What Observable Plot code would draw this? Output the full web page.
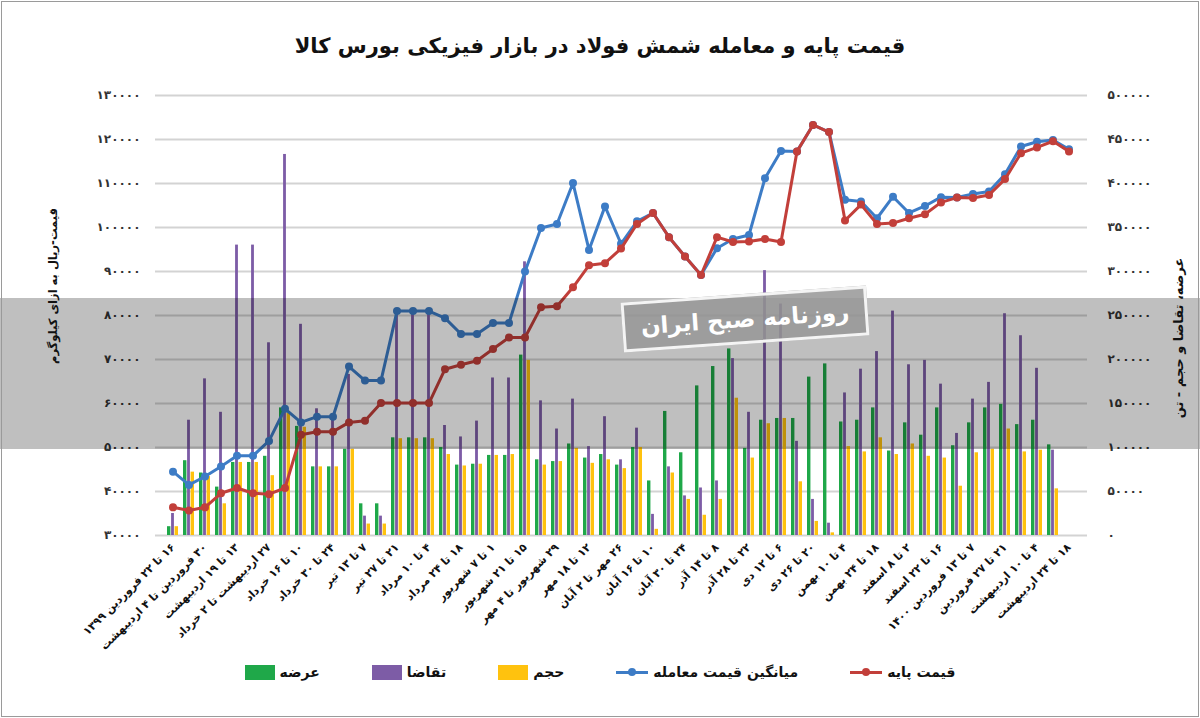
<!DOCTYPE html>
<html><head><meta charset="utf-8">
<script src="https://cdn.jsdelivr.net/npm/d3@7"></script>
<script src="https://cdn.jsdelivr.net/npm/@observablehq/plot@0.6"></script>
<style>
body{margin:0;background:#fff;}
#wrap{position:relative;width:1200px;height:718px;overflow:hidden;font-family:"DejaVu Sans",sans-serif;background:#fff;}
#title{position:absolute;left:0;width:1200px;top:34px;text-align:center;font-size:21px;font-weight:bold;color:#111;direction:rtl;}
#chart{position:absolute;left:0;top:0;}
.ytitle{position:absolute;font-weight:bold;color:#111;white-space:nowrap;direction:rtl;transform:translate(-50%,-50%) rotate(-90deg);}
#ytl{left:53px;top:286px;font-size:11.5px;}
#ytr{left:1178px;top:338px;font-size:13px;}
#legend{position:absolute;top:664px;left:0;width:1200px;display:flex;justify-content:center;direction:rtl;gap:52px;font-size:14px;font-weight:bold;color:#111;}
.item{display:flex;align-items:center;gap:5px;}
.box{width:30px;height:15px;display:inline-block;}
.ln{width:32px;height:14px;display:inline-block;position:relative;}
.ln::before{content:"";position:absolute;left:0;right:0;top:6px;height:3px;background:var(--c);}
.ln::after{content:"";position:absolute;left:12px;top:3px;width:8px;height:8px;border-radius:50%;background:var(--c);}
#band{position:absolute;left:0;top:298px;width:1200px;height:151px;background:rgba(0,0,0,0.25);pointer-events:none;}
#stamp{position:absolute;left:622px;top:294px;width:240px;height:44px;background:rgba(150,150,150,0.85);border:3px solid #f4f4f4;color:#fff;font-size:23px;font-weight:bold;text-align:center;line-height:44px;direction:rtl;white-space:nowrap;transform:rotate(-4deg);}
#frame{position:absolute;left:1px;top:1px;right:1px;bottom:1px;border:1px solid #9a9a9a;pointer-events:none;}
</style></head><body>
<div id="wrap">
<div id="chart"></div>
<div id="band"></div>
<div id="stamp">روزنامه صبح ایران</div>
<div id="title">قیمت پایه و معامله شمش فولاد در بازار فیزیکی بورس کالا</div>
<div class="ytitle" id="ytl">قیمت-ریال به ازای کیلوگرم</div>
<div class="ytitle" id="ytr">عرضه، تقاضا و حجم - تن</div>
<div id="legend"></div>
<div id="frame"></div>
</div>
<script>
const weeks = [
"۱۶ تا ۲۲ فروردین ۱۳۹۹","۲۳ تا ۲۹ فروردین","۳۰ فروردین تا ۴ اردیبهشت","۶ تا ۱۲ اردیبهشت","۱۳ تا ۱۹ اردیبهشت","۲۰ تا ۲۶ اردیبهشت",
"۲۷ اردیبهشت تا ۲ خرداد","۳ تا ۹ خرداد","۱۰ تا ۱۶ خرداد","۱۷ تا ۲۳ خرداد","۲۴ تا ۳۰ خرداد","۳۱ خرداد تا ۶ تیر",
"۷ تا ۱۳ تیر","۱۴ تا ۲۰ تیر","۲۱ تا ۲۷ تیر","۲۸ تیر تا ۳ مرداد","۴ تا ۱۰ مرداد","۱۱ تا ۱۷ مرداد",
"۱۸ تا ۲۴ مرداد","۲۵ تا ۳۱ مرداد","۱ تا ۷ شهریور","۸ تا ۱۴ شهریور","۱۵ تا ۲۱ شهریور","۲۲ تا ۲۸ شهریور",
"۲۹ شهریور تا ۴ مهر","۵ تا ۱۱ مهر","۱۲ تا ۱۸ مهر","۱۹ تا ۲۵ مهر","۲۶ مهر تا ۲ آبان","۳ تا ۹ آبان",
"۱۰ تا ۱۶ آبان","۱۷ تا ۲۳ آبان","۲۴ تا ۳۰ آبان","۱ تا ۷ آذر","۸ تا ۱۴ آذر","۱۵ تا ۲۱ آذر",
"۲۲ تا ۲۸ آذر","۲۹ آذر تا ۵ دی","۶ تا ۱۲ دی","۱۳ تا ۱۹ دی","۲۰ تا ۲۶ دی","۲۷ دی تا ۳ بهمن",
"۴ تا ۱۰ بهمن","۱۱ تا ۱۷ بهمن","۱۸ تا ۲۴ بهمن","۲۵ بهمن تا ۱ اسفند","۲ تا ۸ اسفند","۹ تا ۱۵ اسفند",
"۱۶ تا ۲۲ اسفند","۲۳ تا ۲۹ اسفند","۷ تا ۱۳ فروردین ۱۴۰۰","۱۴ تا ۲۰ فروردین","۲۱ تا ۲۷ فروردین","۲۸ فروردین تا ۳ اردیبهشت",
"۴ تا ۱۰ اردیبهشت","۱۱ تا ۱۷ اردیبهشت","۱۸ تا ۲۴ اردیبهشت"
];
// عرضه (tons)
const supply = [10000,85000,71000,55000,83000,83000,90000,145000,124000,78000,78000,98000,36000,36000,111000,111000,111000,100000,80000,81000,91000,91000,205000,86000,84000,104000,88000,92000,80000,100000,62000,141000,94000,170000,192000,212000,99000,131000,133000,133000,180000,195000,129000,131000,145000,96000,128000,114000,145000,102000,128000,145000,149000,126000,131000,103000,null];
// تقاضا (tons)
const demand = [25000,131000,178000,140000,330000,330000,219000,433000,240000,144000,135000,183000,22000,22000,255000,255000,255000,125000,112000,130000,179000,179000,311000,153000,121000,155000,101000,135000,86000,122000,24000,78000,45000,54000,62000,201000,140000,301000,263000,107000,41000,14000,162000,189000,209000,255000,194000,199000,172000,116000,155000,174000,252000,227000,190000,97000,null];
// حجم (tons)
const volume = [10000,72000,67000,36000,83000,83000,68000,139000,123000,78000,78000,98000,13000,13000,110000,110000,110000,92000,79000,81000,91000,92000,199000,80000,84000,99000,82000,86000,76000,100000,7000,71000,41000,23000,41000,156000,88000,127000,133000,61000,16000,3000,101000,95000,111000,92000,104000,90000,88000,56000,94000,98000,121000,95000,97000,53000,null];
// میانگین قیمت معامله (rial/kg)
const avgPrice = [44500,41500,43400,45700,48100,48100,51500,58800,55700,57000,57000,68400,65200,65200,81000,81000,81000,79400,75800,75800,78300,78300,90000,99900,100800,110100,94900,104800,96300,101400,103300,97800,93400,89200,95300,97400,98300,111200,117400,117300,123300,121700,106300,105900,102100,107000,103300,104900,106900,106800,107600,108200,112100,118400,119500,119900,117800];
// قیمت پایه (rial/kg)
const basePrice = [36400,35700,36400,39600,40800,39600,39400,40800,52900,53600,53600,55700,56100,60100,60100,60100,60100,67800,68800,69700,72400,75000,75000,81900,82100,86400,91400,91900,95200,100800,103300,97800,93400,89200,97800,96700,96800,97400,96700,117300,123300,121700,101600,105200,100800,101000,102100,103000,105700,106800,106700,107400,111000,116900,118200,119600,117300];
const leftTicks = [30000,40000,50000,60000,70000,80000,90000,100000,110000,120000,130000];

const C = {supply:"#1fa849", demand:"#7d5ca6", volume:"#ffc20e", avg:"#3d7cc6", base:"#c23f3a"};
const fa = v => String(v).replace(/\d/g, d => "۰۱۲۳۴۵۶۷۸۹"[d]);
const rtl = s => "\u202B" + s + "\u202C";

const W = 1200, H = 718, mL = 155, mR = 113, mT = 95, mB = 183, PAD = 0.3;
const bw = d3.scaleBand().domain(weeks).range([mL, W - mR]).padding(PAD).bandwidth();
const base0 = 30000;
const toLeft = v => base0 + v / 5; // right axis 0..500000 -> left 30000..130000

const rows = weeks.map((w, i) => ({w, supply: supply[i], demand: demand[i], volume: volume[i], avg: avgPrice[i], base: basePrice[i]}));
const barRows = rows.filter(d => d.supply != null);

const plot = Plot.plot({
  width: W, height: H,
  marginLeft: mL, marginRight: mR, marginTop: mT, marginBottom: mB,
  style: {fontFamily: "DejaVu Sans, sans-serif", fontWeight: "bold", color: "#222", background: "transparent"},
  x: {type: "band", domain: weeks, padding: PAD, axis: null},
  y: {domain: [30000, 130000], axis: null},
  marks: [
    Plot.gridY(leftTicks, {stroke: "#d3d3d3", strokeOpacity: 1, strokeWidth: 1.8}),
    Plot.barY(barRows, {x: "w", y1: base0, y2: d => toLeft(d.supply), fill: C.supply, insetLeft: 0, insetRight: bw * 2 / 3}),
    Plot.barY(barRows, {x: "w", y1: base0, y2: d => toLeft(d.demand), fill: C.demand, insetLeft: bw / 3 + 0.3, insetRight: bw / 3 + 0.3}),
    Plot.barY(barRows, {x: "w", y1: base0, y2: d => toLeft(d.volume), fill: C.volume, insetLeft: bw * 2 / 3, insetRight: 0}),
    Plot.line(rows, {x: "w", y: "avg", stroke: C.avg, strokeWidth: 3}),
    Plot.dot(rows, {x: "w", y: "avg", fill: C.avg, r: 4}),
    Plot.line(rows, {x: "w", y: "base", stroke: C.base, strokeWidth: 3}),
    Plot.dot(rows, {x: "w", y: "base", fill: C.base, r: 4}),
    Plot.axisY({anchor: "left", ticks: leftTicks, tickSize: 0, tickPadding: 15, tickFormat: fa, fontSize: 12, fill: "#333"}),
    Plot.axisY({anchor: "right", ticks: leftTicks, tickSize: 0, tickPadding: 20, tickFormat: v => fa((v - base0) * 5), fontSize: 12, fill: "#333"}),
    Plot.axisX({ticks: weeks.filter((d, i) => i % 2 === 0), tickRotate: -45, tickSize: 0, tickPadding: 10, tickFormat: rtl, fontSize: 11, fill: "#111", label: null})
  ]
});
document.getElementById("chart").appendChild(plot);

const legendItems = [
  {name: "قیمت پایه", c: C.base, line: true},
  {name: "میانگین قیمت معامله", c: C.avg, line: true},
  {name: "حجم", c: C.volume},
  {name: "تقاضا", c: C.demand},
  {name: "عرضه", c: C.supply}
];
const lg = document.getElementById("legend");
for (const it of legendItems) {
  const el = document.createElement("div");
  el.className = "item";
  const t = document.createElement("span"); t.textContent = it.name;
  const s = document.createElement("span");
  if (it.line) { s.className = "ln"; s.style.setProperty("--c", it.c); }
  else { s.className = "box"; s.style.background = it.c; }
  el.appendChild(t); el.appendChild(s);
  lg.appendChild(el);
}
</script>
</body></html>
